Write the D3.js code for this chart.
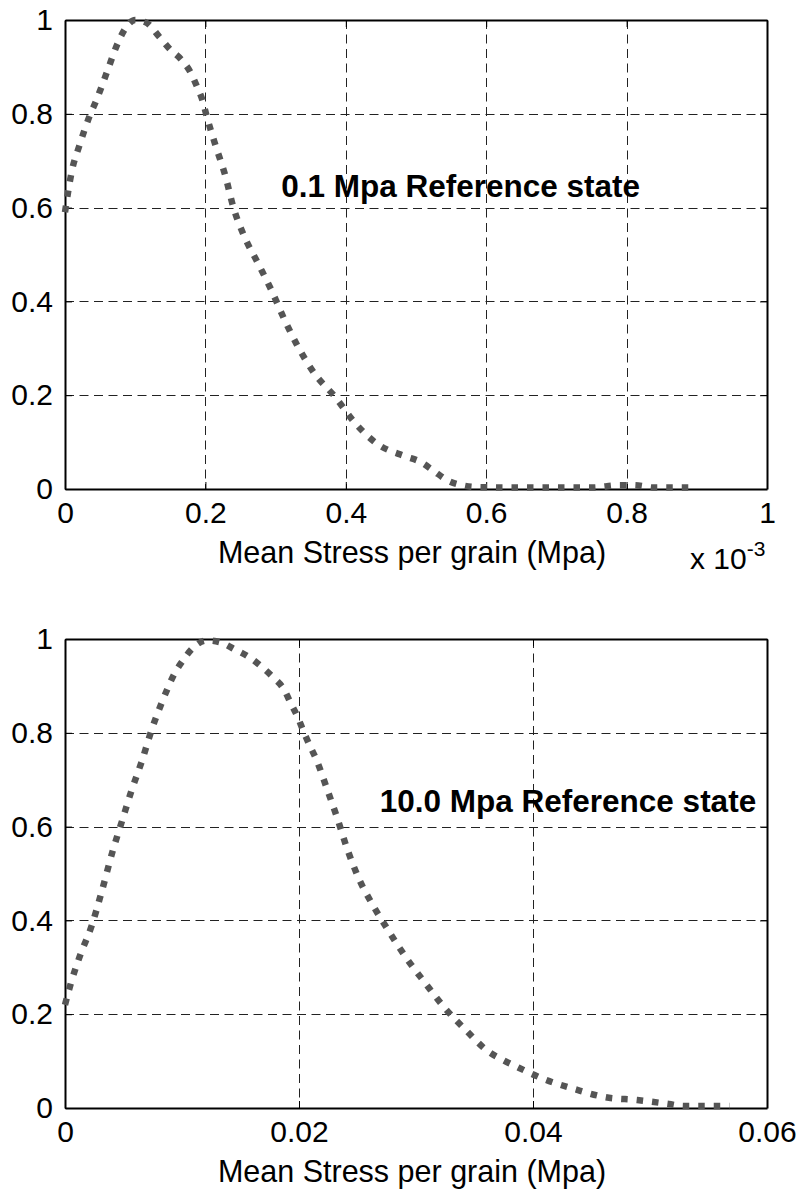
<!DOCTYPE html>
<html>
<head>
<meta charset="utf-8">
<script src="https://cdn.jsdelivr.net/npm/d3@7"></script>
<style>
  body { margin: 0; background: #fff; }
  svg { display: block; font-family: "Liberation Sans", Arial, Helvetica, sans-serif; }
  .axis path, .axis line { stroke: #000; }
  .grid line { stroke: #222; stroke-dasharray: 9 5.5; }
</style>
</head>
<body>
<div id="chart"></div>
<script>
// data

// top panel: x is in units of 1e-3 Mpa (axis carries "x 10^-3")
const topStress = [0, 0.01, 0.02, 0.035, 0.045, 0.06, 0.075, 0.085, 0.1, 0.115, 0.135, 0.15, 0.166, 0.179, 0.188, 0.196, 0.202, 0.215, 0.228, 0.24, 0.255, 0.275, 0.294, 0.313, 0.332, 0.356, 0.385, 0.413, 0.444, 0.484, 0.506, 0.525, 0.544, 0.564, 0.586, 0.65, 0.75, 0.79, 0.81, 0.84, 0.9];
const topFreq   = [0.59, 0.68, 0.73, 0.795, 0.83, 0.89, 0.95, 0.98, 1.0, 0.995, 0.963, 0.937, 0.915, 0.888, 0.858, 0.828, 0.794, 0.73, 0.67, 0.60, 0.54, 0.481, 0.424, 0.36, 0.303, 0.245, 0.196, 0.141, 0.097, 0.07, 0.058, 0.039, 0.019, 0.0085, 0.004, 0.003, 0.003, 0.008, 0.008, 0.003, 0.003];

// bottom panel: x in Mpa
const botStress = [0, 0.0005, 0.0013, 0.0023, 0.0031, 0.0041, 0.0049, 0.0057, 0.0066, 0.0074, 0.0083, 0.0094, 0.0101, 0.0109, 0.0121, 0.0134, 0.0145, 0.0157, 0.0168, 0.0178, 0.0187, 0.0193, 0.0199, 0.0204, 0.0209, 0.0215, 0.0224, 0.0233, 0.0241, 0.0251, 0.0263, 0.0277, 0.0292, 0.0308, 0.0324, 0.0343, 0.0362, 0.0373, 0.0386, 0.041, 0.0436, 0.0462, 0.0489, 0.0516, 0.0529, 0.0568];
const botFreq   = [0.22, 0.266, 0.326, 0.39, 0.458, 0.55, 0.614, 0.678, 0.742, 0.806, 0.866, 0.928, 0.955, 0.98, 0.997, 0.992, 0.978, 0.962, 0.941, 0.918, 0.893, 0.863, 0.833, 0.802, 0.774, 0.742, 0.68, 0.616, 0.554, 0.49, 0.433, 0.376, 0.319, 0.266, 0.215, 0.165, 0.12, 0.104, 0.088, 0.061, 0.04, 0.023, 0.017, 0.0085, 0.004, 0.004];

const yTicks = [0, 0.2, 0.4, 0.6, 0.8, 1];
const topXTicks = [0, 0.2, 0.4, 0.6, 0.8, 1];
const botXTicks = [0, 0.02, 0.04, 0.06];

const xLabel = 'Mean Stress per grain (Mpa)';
const topNote = '0.1 Mpa Reference state';
const botNote = '10.0 Mpa Reference state';

const width = 801, height = 1190;
const svg = d3.select('#chart').append('svg')
  .attr('width', width)
  .attr('height', height);

function panel(opts) {
  const { top, xs, ys, xMax, xTicks, note, noteX, noteY, exponent } = opts;
  const left = 65, right = 767, bottom = top + 469;

  const x = d3.scaleLinear().domain([0, xMax]).range([left, right]);
  const y = d3.scaleLinear().domain([0, 1]).range([bottom, top]);
  const fmt = d => d === 0 ? '0' : String(+d.toFixed(3));

  const g = svg.append('g');

  // dashed grid, skipping the box edges
  const grid = g.append('g').attr('class', 'grid');
  grid.selectAll('.gx').data(xTicks.filter(d => d > 0 && d < xMax))
    .enter().append('line')
    .attr('x1', d => Math.round(x(d)) + 0.5).attr('x2', d => Math.round(x(d)) + 0.5)
    .attr('y1', top).attr('y2', bottom);
  grid.selectAll('.gy').data(yTicks.filter(d => d > 0 && d < 1))
    .enter().append('line')
    .attr('y1', d => Math.round(y(d)) + 0.5).attr('y2', d => Math.round(y(d)) + 0.5)
    .attr('x1', left).attr('x2', right);

  // box with inward ticks, matlab style
  g.append('g').attr('class', 'axis')
    .attr('transform', `translate(0,${bottom})`)
    .call(d3.axisBottom(x).tickValues(xTicks).tickSizeInner(-7).tickSizeOuter(0).tickPadding(13).tickFormat(fmt))
    .call(s => s.selectAll('text').attr('y', 13).attr('font-size', 30).attr('fill', '#000'));
  g.append('g').attr('class', 'axis')
    .attr('transform', `translate(0,${top})`)
    .call(d3.axisTop(x).tickValues(xTicks).tickSizeInner(-7).tickSizeOuter(0).tickFormat(''));
  g.append('g').attr('class', 'axis')
    .attr('transform', `translate(${left},0)`)
    .call(d3.axisLeft(y).tickValues(yTicks).tickSizeInner(-7).tickSizeOuter(0).tickFormat(fmt))
    .call(s => s.selectAll('text').attr('x', -12).attr('font-size', 30).attr('fill', '#000'));
  g.append('g').attr('class', 'axis')
    .attr('transform', `translate(${right},0)`)
    .call(d3.axisRight(y).tickValues(yTicks).tickSizeInner(-7).tickSizeOuter(0).tickFormat(''));
  g.selectAll('.axis path').attr('stroke-width', 2);

  // the curve, square dots
  const pts = xs.map((v, i) => [v, ys[i]]);
  g.append('path')
    .datum(pts)
    .attr('fill', 'none')
    .attr('stroke', '#555')
    .attr('stroke-width', 6.5)
    .attr('stroke-dasharray', '6.5 9')
    .attr('d', d3.line().x(d => x(d[0])).y(d => y(d[1])).curve(d3.curveMonotoneX));

  g.append('text')
    .attr('x', x(noteX)).attr('y', y(noteY))
    .attr('font-size', 31.5).attr('font-weight', 'bold')
    .text(note);

  g.append('text')
    .attr('x', (left + right) / 2 - 4).attr('y', bottom + 74)
    .attr('text-anchor', 'middle')
    .attr('font-size', 30.5)
    .text(xLabel);

  if (exponent) {
    const t = g.append('text')
      .attr('x', 690).attr('y', bottom + 80)
      .attr('font-size', 30);
    t.append('tspan').text('x 10');
    t.append('tspan').attr('dy', -13).attr('font-size', 21).text(exponent);
  }
}

panel({ top: 20, xs: topStress, ys: topFreq, xMax: 1, xTicks: topXTicks,
  note: topNote, noteX: 0.308, noteY: 0.623, exponent: '-3' });
panel({ top: 639, xs: botStress, ys: botFreq, xMax: 0.06, xTicks: botXTicks,
  note: botNote, noteX: 0.0269, noteY: 0.631 });
</script>
</body>
</html>
